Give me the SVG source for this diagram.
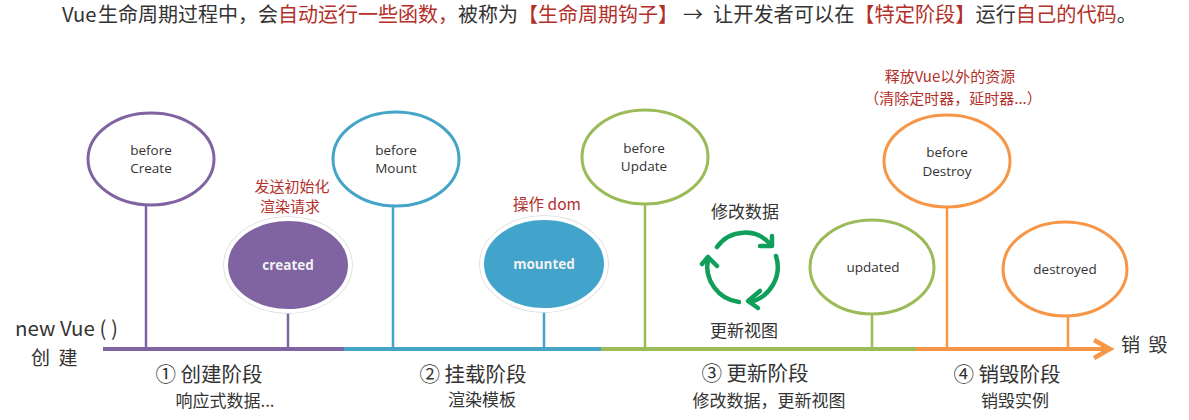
<svg xmlns="http://www.w3.org/2000/svg" width="1189" height="420" viewBox="0 0 1189 420">
<style>
text{font-family:"Noto Sans CJK SC","Noto Sans",sans-serif;fill:#333}
.r{fill:#b3302a}
.n{font-family:"Open Sans","Noto Sans CJK SC",sans-serif;font-size:13.5px;text-anchor:middle;fill:#333}
.m{text-anchor:middle}
.e{fill:#fff;stroke-width:3}
.s{fill:none;stroke:#d9d9d9;stroke-width:1.5}
.f{stroke:#fff;stroke-width:4}
.w{fill:#f2f2f2;font-weight:700}
.p{stroke:#8064a2}.b{stroke:#45a5c8}.g{stroke:#9bbb59}.o{stroke:#f79646}
.l{fill:none;stroke-width:2.5}
.a{fill:none;stroke-width:4}
.c{fill:none;stroke:#0f9f5a;stroke-width:4.5;stroke-linecap:round;stroke-linejoin:round}
</style>
<text x="62" y="22" font-size="20.2">Vue</text>
<text x="98" y="22" font-size="20">生命周期过程中，会<tspan class="r">自动运行一些函数，</tspan>被称为<tspan class="r">【生命周期钩子】</tspan></text>
<text x="683" y="22" font-size="20">→</text>
<text x="713" y="22" font-size="20.2">让开发者可以在<tspan class="r">【特定阶段】</tspan>运行<tspan class="r">自己的代码</tspan>。</text>
<g id="connectors">
<path class="l p" d="M146 205V349M288 312V349"/>
<path class="l b" d="M393 206V349M544 312V349"/>
<path class="l g" d="M645 204V349M872 314V349"/>
<path class="l o" d="M947 207V349M1068 316V349"/>
<path class="a p" d="M103 349H344"/>
<path class="a b" d="M344 349H601"/>
<path class="a g" d="M601 349H916"/>
<path class="a o" d="M916 349H1106"/>
<path d="M1094 340L1110 349L1094 358" fill="none" stroke="#f79646" stroke-width="4.5"/>
</g>
<g id="beforeCreate"><ellipse class="e p" cx="151" cy="159" rx="63" ry="46"/><text class="n" x="151" y="155">before</text><text class="n" x="151" y="173">Create</text></g>
<g id="created"><ellipse class="s" cx="288" cy="265" rx="64" ry="48"/><ellipse class="f" cx="288" cy="265" rx="62" ry="46" fill="#8064a2"/><text class="n w" x="288" y="270">created</text></g>
<g id="beforeMount"><ellipse class="e b" cx="396" cy="159" rx="63" ry="47"/><text class="n" x="396" y="155">before</text><text class="n" x="396" y="173">Mount</text></g>
<g id="mounted"><ellipse class="s" cx="544" cy="264" rx="64" ry="48"/><ellipse class="f" cx="544" cy="264" rx="62" ry="46" fill="#42a3cb"/><text class="n w" x="544" y="269">mounted</text></g>
<g id="beforeUpdate"><ellipse class="e g" cx="645" cy="157" rx="63" ry="47"/><text class="n" x="644" y="153">before</text><text class="n" x="644" y="171">Update</text></g>
<g id="updated"><ellipse class="e g" cx="872" cy="267" rx="62" ry="47"/><text class="n" x="873" y="272">updated</text></g>
<g id="beforeDestroy"><ellipse class="e o" cx="947" cy="161" rx="63" ry="46"/><text class="n" x="947" y="157">before</text><text class="n" x="947" y="176">Destroy</text></g>
<g id="destroyed"><ellipse class="e o" cx="1065" cy="269" rx="62" ry="47"/><text class="n" x="1065" y="274">destroyed</text></g>
<g id="cycle">
<path class="c" d="M717 247A34 34 0 0 1 771 245"/><path class="c" d="M772 236L772 246L760 246"/>
<path class="c" d="M776 256A36 36 0 0 1 750 302"/><path class="c" d="M760 291L748 301L758 308"/>
<path class="c" d="M739 302A36 36 0 0 1 708 259"/><path class="c" d="M702 264L708 257L717 266"/>
</g>
<text class="r m" x="292" y="192" font-size="15">发送初始化</text>
<text class="r m" x="290" y="212" font-size="15">渲染请求</text>
<text class="r m" x="547" y="210" font-size="15.5">操作 dom</text>
<text class="r m" x="950" y="82" font-size="15">释放Vue以外的资源</text>
<text class="r m" x="953" y="104" font-size="15">（清除定时器，延时器...）</text>
<text class="m" x="745" y="218" font-size="17">修改数据</text>
<text class="m" x="744" y="337" font-size="17">更新视图</text>
<text x="15" y="336" font-size="20.5">new Vue ( )</text>
<text x="31" y="365" font-size="19" xml:space="preserve">创  建</text>
<text x="1121" y="352" font-size="19" xml:space="preserve">销  毁</text>
<text class="m" x="209" y="382" font-size="20.5">① 创建阶段</text>
<text class="m" x="225" y="407" font-size="17">响应式数据...</text>
<text class="m" x="473" y="382" font-size="20.5">② 挂载阶段</text>
<text class="m" x="482" y="406" font-size="17">渲染模板</text>
<text class="m" x="755" y="381" font-size="20.5">③ 更新阶段</text>
<text class="m" x="769" y="407" font-size="17">修改数据，更新视图</text>
<text class="m" x="1007" y="382" font-size="20.5">④ 销毁阶段</text>
<text class="m" x="1015" y="407" font-size="17">销毁实例</text>
</svg>
